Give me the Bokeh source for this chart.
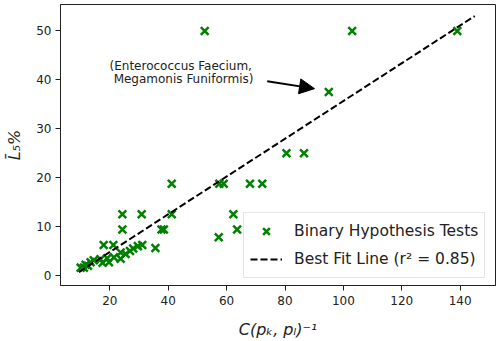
from bokeh.plotting import figure
from bokeh.models import (ColumnDataSource, Range1d, FixedTicker, Legend, LegendItem,
                          Arrow, NormalHead)
from bokeh.core.properties import value
from bokeh.embed import file_html
from bokeh.resources import INLINE

# ---- data ----
test_x = [52.5, 103.0, 139.0,
          95.0,
          80.5, 86.5,
          41.2, 57.5, 59.0, 68.0, 72.2,
          24.3, 30.9, 41.2, 62.3,
          24.3, 37.7, 38.5, 63.6,
          57.3,
          17.9, 21.2, 31.1, 29.6, 35.6,
          28.0, 26.9, 23.7, 25.4, 21.4, 19.1, 16.8, 14.5, 13.4, 19.7,
          23.7, 11.7, 10.0, 11.1, 12.5, 17.5]
test_y = [50.0, 50.0, 50.0,
          37.5,
          25.0, 25.0,
          18.75, 18.75, 18.75, 18.75, 18.75,
          12.5, 12.5, 12.5, 12.5,
          9.4, 9.4, 9.4, 9.4,
          7.8,
          6.25, 6.25, 6.25, 6.0, 5.6,
          5.5, 5.0, 4.7, 4.4, 3.7, 3.5, 3.3, 3.1, 2.7, 2.7,
          3.4, 2.2, 1.6, 1.6, 2.0, 2.6]

fit_slope = 0.386
fit_intercept = -2.93
fit_x = [9.4, 145.0]
fit_y = [fit_slope * v + fit_intercept for v in fit_x]

x_ticks = [20, 40, 60, 80, 100, 120, 140]
y_ticks = [0, 10, 20, 30, 40, 50]

annot_lines = ["(Enterococcus Faecium,", "Megamonis Funiformis)"]
annot_x = [19.9, 21.3]
annot_y = [42.8, 40.1]
arrow_from = (73.9, 39.7)
arrow_to = (90.1, 38.2)

FONT = "DejaVu Sans"
DARK = "#222222"

p = figure(width=501, height=341, output_backend="svg", toolbar_location=None,
           x_range=Range1d(3.1, 152.1), y_range=Range1d(-2.05, 55.4),
           min_border_left=60, min_border_right=6, min_border_top=4,
           min_border_bottom=56)
p.background_fill_color = "white"
p.border_fill_color = "white"
p.outline_line_color = DARK
p.outline_line_width = 1
p.grid.visible = False

for ax in (p.xaxis[0], p.yaxis[0]):
    ax.axis_line_color = DARK
    ax.major_tick_line_color = DARK
    ax.major_tick_out = 5
    ax.major_tick_in = 0
    ax.minor_tick_line_color = None
    ax.major_label_text_font = FONT
    ax.major_label_text_font_size = "12px"
    ax.major_label_text_color = DARK
    ax.axis_label_text_font = FONT
    ax.axis_label_text_font_size = "16px"
    ax.axis_label_text_font_style = "italic"
    ax.axis_label_text_color = DARK

p.xaxis.ticker = FixedTicker(ticks=x_ticks)
p.yaxis.ticker = FixedTicker(ticks=y_ticks)
p.xaxis.axis_label = "C(p\u2096, p\u2097)\u207b\u00b9"
p.yaxis.axis_label = "L\u0304\u2085%"
p.xaxis.axis_label_standoff = 12
p.yaxis.axis_label_standoff = 9
p.xaxis.major_label_standoff = 5
p.yaxis.major_label_standoff = 4

src = ColumnDataSource(dict(x=test_x, y=test_y))
pts = p.scatter("x", "y", source=src, marker="x", size=11, line_color="#008000",
                line_width=2.5)
fit = p.line(fit_x, fit_y, line_color="black", line_width=2, line_dash="7 3")

tsrc = ColumnDataSource(dict(x=annot_x, y=annot_y, t=annot_lines))
p.text("x", "y", text="t", source=tsrc, text_font=value(FONT),
       text_font_size="12px", text_color=DARK, text_baseline="alphabetic",
       text_align="left")

p.add_layout(Arrow(end=NormalHead(size=15, fill_color="black", line_color="black"),
                   x_start=arrow_from[0], y_start=arrow_from[1],
                   x_end=arrow_to[0], y_end=arrow_to[1],
                   line_color="black", line_width=2))

legend = Legend(items=[LegendItem(label="Binary Hypothesis Tests", renderers=[pts]),
                       LegendItem(label="Best Fit Line (r\u00b2 = 0.85)", renderers=[fit])],
                location=(183, 7))
legend.label_text_font = FONT
legend.label_text_font_size = "15.5px"
legend.label_text_color = DARK
legend.border_line_color = "#cccccc"
legend.border_line_width = 1
legend.background_fill_alpha = 0.85
legend.glyph_width = 32
legend.glyph_height = 24
legend.label_height = 24
legend.label_standoff = 12
legend.spacing = 4
legend.padding = 6
legend.margin = 0
p.add_layout(legend)

open("out.html", "w").write(file_html(p, INLINE))
